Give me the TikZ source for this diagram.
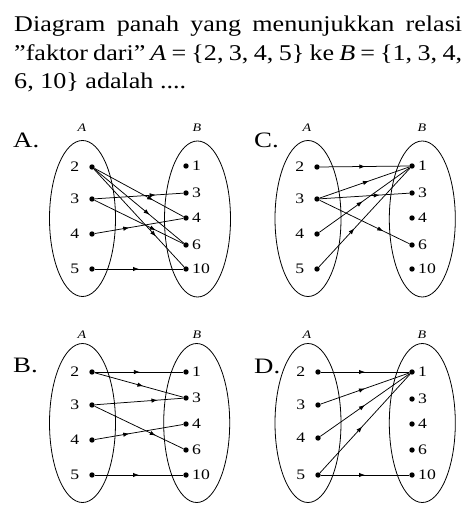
\documentclass[tikz,border=0pt]{standalone}
\usepackage{fontspec}
\setmainfont{Liberation Serif}[FakeStretch=1.22]
\newfontfamily\titlefont{Liberation Serif}[FakeStretch=1.16]
\usetikzlibrary{arrows.meta,decorations.markings,shapes.geometric}
\tikzset{
  dotn/.style={circle,fill=black,inner sep=0pt,minimum size=5.4pt},
  setell/.style={draw,ellipse,line width=0.8pt,inner sep=0pt,minimum width=66pt},
  conn/.style={line width=0.75pt},
  numl/.style={font=\fontsize{14.5}{14.5}\selectfont,inner sep=0pt},
  setl/.style={font=\fontsize{11.5}{11.5}\selectfont\itshape,inner sep=0pt,anchor=base},
  optl/.style={font=\fontsize{22}{22}\selectfont,inner sep=0pt,anchor=base west},
  titl/.style={font=\titlefont\fontsize{22.5}{28}\selectfont,inner sep=0pt,anchor=base west},
  midarr/.style={postaction={decorate,decoration={markings,mark=at position #1 with {\arrow{Latex[length=6pt,width=4.4pt]}}}}}
}
\newcommand\rel[3]{\draw[conn,midarr=#3] (#1) -- (#2);}
\newcommand\ldot[4]{\node[dotn] (#1) at (#2,#3) {}; \node[numl,anchor=east] (#1l) at ([xshift=-12.5pt]#1.center) {#4};}
\newcommand\rdot[4]{\node[dotn] (#1) at (#2,#3) {}; \node[numl,anchor=west] (#1l) at ([xshift=6pt]#1.center) {#4};}
\begin{document}
\begin{tikzpicture}[x=1pt,y=-1pt]
\useasboundingbox (0,0) rectangle (474,518);
% title
\node[titl] (t1) at (14,32) {\makebox[448pt][s]{Diagram panah yang menunjukkan relasi}};
\node[titl] (t2) at (14,61) {\makebox[448pt][s]{”faktor dari” \textit{A} = \{2, 3, 4, 5\} ke \textit{B} = \{1, 3, 4,}};
\node[titl] (t3) at (14,89) {6, 10\} adalah ....};
% option labels
\node[optl] (labA) at (13,148) {A.};
\node[optl] (labC) at (254,148) {C.};
\node[optl] (labB) at (13,372) {B.};
\node[optl] (labD) at (254,373) {D.};
% set labels
\node[setl] (sA1) at (82,132) {A};
\node[setl] (sA2) at (197,132) {B};
\node[setl] (sC1) at (307,132) {A};
\node[setl] (sC2) at (422,132) {B};
\node[setl] (sB1) at (82,338) {A};
\node[setl] (sB2) at (197,338) {B};
\node[setl] (sD1) at (307,338) {A};
\node[setl] (sD2) at (422,338) {B};
% ellipses
\node[setell,minimum height=156pt] (eA1) at (82.5,218.5) {};
\node[setell,minimum height=156pt] (eA2) at (197.5,219) {};
\node[setell,minimum height=156pt] (eC1) at (308,218.5) {};
\node[setell,minimum height=156pt] (eC2) at (422.3,219) {};
\node[setell,minimum height=159pt] (eB1) at (82.5,423) {};
\node[setell,minimum height=159pt] (eB2) at (196.7,423) {};
\node[setell,minimum height=159pt] (eD1) at (308,423) {};
\node[setell,minimum height=159pt] (eD2) at (422.3,423) {};
% panel A dots
\ldot{Aa2}{92}{167}{2}
\ldot{Aa3}{92}{199}{3}
\ldot{Aa4}{92}{234}{4}
\ldot{Aa5}{92}{269}{5}
\rdot{Ab1}{186}{166}{1}
\rdot{Ab3}{186}{193}{3}
\rdot{Ab4}{186}{218}{4}
\rdot{Ab6}{186}{245}{6}
\rdot{Ab10}{186}{269}{10}
% panel C dots
\ldot{Ca2}{317}{167}{2}
\ldot{Ca3}{317}{199}{3}
\ldot{Ca4}{317}{234}{4}
\ldot{Ca5}{317}{269}{5}
\rdot{Cb1}{412}{166}{1}
\rdot{Cb3}{412}{193}{3}
\rdot{Cb4}{412}{218}{4}
\rdot{Cb6}{412}{245}{6}
\rdot{Cb10}{412}{269}{10}
% panel B dots
\ldot{Ba2}{92}{372}{2}
\ldot{Ba3}{92}{405}{3}
\ldot{Ba4}{92}{440}{4}
\ldot{Ba5}{92}{475}{5}
\rdot{Bb1}{186}{372}{1}
\rdot{Bb3}{186}{398}{3}
\rdot{Bb4}{186}{424}{4}
\rdot{Bb6}{186}{450}{6}
\rdot{Bb10}{186}{475}{10}
% panel D dots
\ldot{Da2}{318}{372}{2}
\ldot{Da3}{318}{405}{3}
\ldot{Da4}{318}{438}{4}
\ldot{Da5}{318}{475}{5}
\rdot{Db1}{412}{372}{1}
\rdot{Db3}{412}{399}{3}
\rdot{Db4}{412}{424}{4}
\rdot{Db6}{412}{450}{6}
\rdot{Db10}{412}{475}{10}
% relations A
\rel{Aa2}{Ab4}{0.66}
\rel{Aa2}{Ab6}{0.62}
\rel{Aa2}{Ab10}{0.69}
\rel{Aa3}{Ab3}{0.69}
\rel{Aa3}{Ab6}{0.69}
\rel{Aa4}{Ab4}{0.39}
\rel{Aa5}{Ab10}{0.5}
% relations C
\rel{Ca2}{Cb1}{0.51}
\rel{Ca3}{Cb1}{0.55}
\rel{Ca3}{Cb3}{0.67}
\rel{Ca3}{Cb6}{0.71}
\rel{Ca4}{Cb1}{0.48}
\rel{Ca5}{Cb1}{0.39}
% relations B
\rel{Ba2}{Bb1}{0.51}
\rel{Ba2}{Bb3}{0.55}
\rel{Ba3}{Bb3}{0.71}
\rel{Ba3}{Bb6}{0.69}
\rel{Ba4}{Bb4}{0.39}
\rel{Ba5}{Bb10}{0.5}
% relations D
\rel{Da2}{Db1}{0.5}
\rel{Da3}{Db1}{0.5}
\rel{Da4}{Db1}{0.5}
\rel{Da5}{Db1}{0.47}
\rel{Da5}{Db10}{0.5}
\end{tikzpicture}
\end{document}
